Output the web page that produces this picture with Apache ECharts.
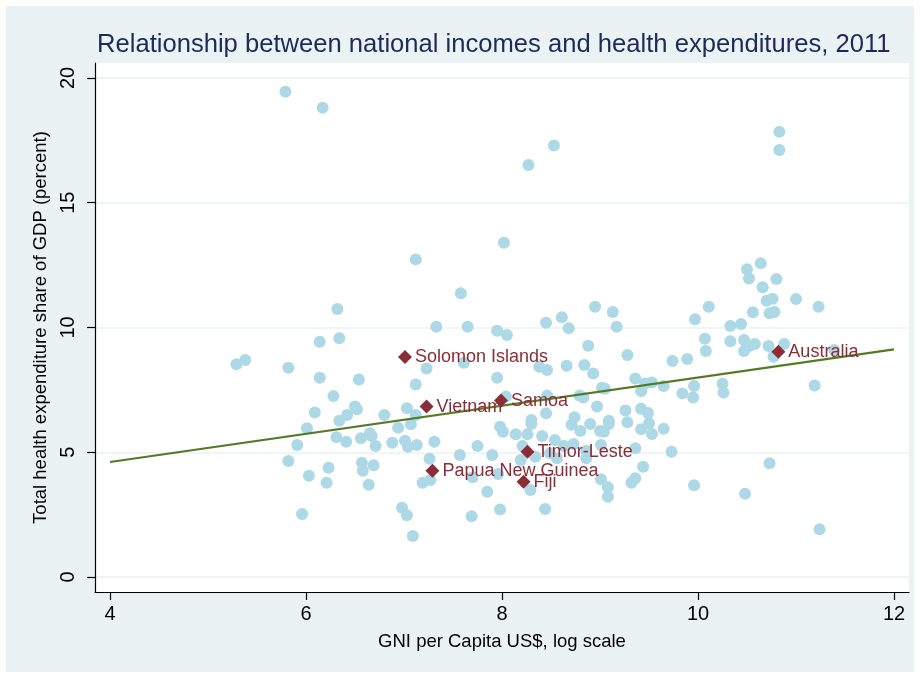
<!DOCTYPE html>
<html>
<head>
<meta charset="utf-8">
<title>Relationship between national incomes and health expenditures, 2011</title>
<script src="https://cdn.jsdelivr.net/npm/echarts@6.0.0/dist/echarts.min.js"></script>
<style>
  html, body { margin: 0; padding: 0; background: #fff; }
  #chart { width: 920px; height: 675px; }
</style>
</head>
<body>
<div id="chart"></div>
<script>
// log GNI per capita (x) and health expenditure share of GDP (y), other countries
const gniLog = [
  5.79, 6.17, 8.53, 8.27, 8.02, 10.83, 10.83, 10.64, 7.12, 6.32,
  7.33, 6.14, 6.34, 5.29, 5.38, 5.82, 7.23, 6.14, 6.54, 7.12,
  6.28, 6.09, 6.50, 6.52, 6.42, 6.34, 6.80, 7.03, 7.12, 7.07,
  6.94, 6.01, 5.91, 6.31, 6.41, 6.56, 6.65, 6.67, 6.71, 6.88,
  7.01, 7.04, 7.13, 7.31, 7.26, 5.82, 6.23, 6.03, 6.21, 6.57,
  6.58, 6.69, 6.64, 7.19, 7.27, 5.96, 6.98, 7.03, 7.09, 7.58,
  7.65, 7.95, 8.05, 8.45, 8.61, 8.68, 8.95, 9.13, 9.17, 9.97,
  10.07, 8.88, 9.28, 9.74, 9.89, 7.61, 8.38, 8.46, 8.66, 8.84,
  8.93, 7.95, 9.36, 9.46, 9.53, 9.65, 9.42, 9.02, 9.05, 9.96,
  9.84, 9.95, 8.04, 8.46, 8.79, 8.83, 8.97, 9.26, 9.42, 9.49,
  8.45, 8.74, 8.30, 8.30, 8.71, 8.90, 9.09, 9.09, 9.28, 9.50,
  9.42, 9.65, 9.53, 8.80, 9.00, 9.04, 7.98, 8.01, 8.14, 8.26,
  8.41, 8.54, 8.63, 8.73, 8.86, 9.01, 9.36, 9.73, 7.75, 7.57,
  7.90, 8.21, 8.19, 8.34, 8.49, 8.56, 8.86, 9.44, 7.96, 7.70,
  9.01, 9.08, 9.08, 9.32, 9.36, 9.96, 7.85, 8.29, 7.98, 8.44,
  7.69, 10.50, 10.52, 10.80, 10.66, 10.11, 10.70, 10.76, 11.00, 11.23,
  10.56, 10.73, 10.78, 10.33, 10.44, 10.33, 10.47, 10.58, 10.53, 10.47,
  10.08, 10.72, 10.88, 10.77, 11.39, 10.25, 10.26, 11.19, 10.73, 10.48,
  11.24
];
const healthShare = [
  19.45, 18.81, 17.29, 16.51, 13.40, 17.84, 17.11, 12.57, 12.73, 10.74,
  10.03, 9.43, 9.57, 8.53, 8.70, 8.39, 8.36, 7.99, 7.92, 7.72,
  7.25, 6.59, 6.83, 6.72, 6.49, 6.26, 6.49, 6.76, 6.49, 6.12,
  5.98, 5.96, 5.29, 5.60, 5.42, 5.56, 5.76, 5.65, 5.25, 5.38,
  5.46, 5.22, 5.29, 5.42, 4.74, 4.65, 4.38, 4.06, 3.78, 4.58,
  4.26, 4.48, 3.70, 3.78, 3.89, 2.53, 2.78, 2.48, 1.64, 11.37,
  10.03, 9.87, 9.70, 10.19, 10.41, 9.97, 10.83, 10.62, 10.03, 10.33,
  9.55, 9.27, 8.90, 8.66, 8.74, 8.59, 8.43, 8.30, 8.47, 8.50,
  8.16, 7.99, 7.96, 7.76, 7.80, 7.66, 7.45, 7.59, 7.55, 7.66,
  7.36, 7.19, 7.23, 7.27, 7.27, 7.19, 6.83, 6.67, 6.74, 6.57,
  6.56, 6.40, 6.29, 6.13, 6.10, 6.13, 6.26, 6.13, 6.20, 6.16,
  5.92, 5.94, 5.73, 5.85, 5.85, 5.82, 6.02, 5.82, 5.72, 5.72,
  5.65, 5.49, 5.25, 5.33, 5.06, 5.29, 5.16, 5.02, 5.25, 4.89,
  4.89, 5.25, 4.69, 4.82, 4.96, 4.76, 4.76, 4.42, 4.13, 4.00,
  3.92, 3.60, 3.22, 3.78, 3.96, 3.68, 3.42, 3.49, 2.71, 2.73,
  2.44, 12.33, 11.96, 11.94, 11.61, 10.83, 11.07, 11.15, 11.14, 10.83,
  10.61, 10.57, 10.62, 10.06, 10.14, 9.45, 9.50, 9.34, 9.27, 9.06,
  9.06, 9.26, 9.34, 8.83, 9.10, 7.75, 7.39, 7.68, 4.56, 3.34,
  1.91
];

// highlighted Pacific countries
const markNames = ["Solomon Islands", "Vietnam", "Samoa", "Timor-Leste", "Papua New Guinea", "Fiji", "Australia"];
const markGni = [7.01, 7.23, 7.99, 8.26, 7.29, 8.22, 10.82];
const markHealth = [8.82, 6.83, 7.07, 5.02, 4.26, 3.82, 9.03];

// linear fit endpoints
const fitX = [4, 12];
const fitY = [4.61, 9.12];

const xTicks = [4, 6, 8, 10, 12];
const yTicks = [0, 5, 10, 15, 20];

const FONT = "'Liberation Sans', Arial, sans-serif";

const chart = echarts.init(document.getElementById("chart"), null, { renderer: "canvas" });

const option = {
  animation: false,
  backgroundColor: "#ffffff",
  graphic: [
    {
      type: "rect",
      z: -10,
      silent: true,
      shape: { x: 6, y: 6, width: 908, height: 666 },
      style: { fill: "#EAF2F3" },
    },
  ],
  title: {
    text: "Relationship between national incomes and health expenditures, 2011",
    left: 97,
    top: 32,
    padding: 0,
    textStyle: {
      fontFamily: FONT,
      fontSize: 25.6,
      fontWeight: "normal",
      color: "#1c2b5a",
    },
  },
  grid: {
    left: 95,
    right: 11,
    top: 63,
    bottom: 83,
    show: true,
    backgroundColor: "#ffffff",
    borderWidth: 0,
  },
  xAxis: {
    type: "value",
    min: 3.847,
    max: 12.153,
    name: "GNI per Capita US$, log scale",
    nameLocation: "middle",
    nameGap: 40,
    nameTextStyle: { fontFamily: FONT, fontSize: 18.5, color: "#000" },
    axisLine: { show: true, onZero: false, lineStyle: { color: "#000", width: 1.2 } },
    axisTick: { show: true, length: 8, customValues: xTicks, lineStyle: { color: "#000", width: 1.2 } },
    axisLabel: { customValues: xTicks, margin: 12, fontFamily: FONT, fontSize: 20, color: "#000" },
    splitLine: { show: false },
  },
  yAxis: {
    type: "value",
    min: -0.6,
    max: 20.6,
    name: "Total health expenditure share of GDP (percent)",
    nameLocation: "middle",
    nameRotate: 90,
    nameGap: 38,
    nameTextStyle: { fontFamily: FONT, fontSize: 18.5, color: "#000" },
    axisLine: { show: true, onZero: false, lineStyle: { color: "#000", width: 1.2 } },
    axisTick: { show: true, length: 8, customValues: yTicks, lineStyle: { color: "#000", width: 1.2 } },
    axisLabel: { customValues: yTicks, rotate: 90, margin: 17, fontFamily: FONT, fontSize: 20, color: "#000" },
    splitLine: { show: false },
  },
  series: [
    {
      name: "countries",
      type: "scatter",
      symbol: "circle",
      symbolSize: 12,
      itemStyle: { color: "#ADD8E6", opacity: 1 },
      data: gniLog.map((x, i) => [x, healthShare[i]]),
      markLine: {
        silent: true,
        symbol: "none",
        label: { show: false },
        lineStyle: { color: "#EAF2F3", width: 1.6, type: "solid" },
        z: 0,
        data: yTicks.map((v) => ({ yAxis: v })),
      },
      z: 2,
    },
    {
      name: "fit",
      type: "line",
      showSymbol: false,
      symbol: "none",
      lineStyle: { color: "#547a28", width: 2.2 },
      data: fitX.map((x, i) => [x, fitY[i]]),
      z: 3,
    },
    {
      name: "highlight",
      type: "scatter",
      symbol: "diamond",
      symbolSize: 14,
      itemStyle: { color: "#8b2d36", opacity: 1 },
      label: {
        show: true,
        position: "right",
        distance: 3,
        formatter: (p) => markNames[p.dataIndex],
        fontFamily: FONT,
        fontSize: 18,
        color: "#8b2d36",
      },
      data: markGni.map((x, i) => [x, markHealth[i]]),
      z: 4,
    },
  ],
};

chart.setOption(option);
</script>
</body>
</html>
